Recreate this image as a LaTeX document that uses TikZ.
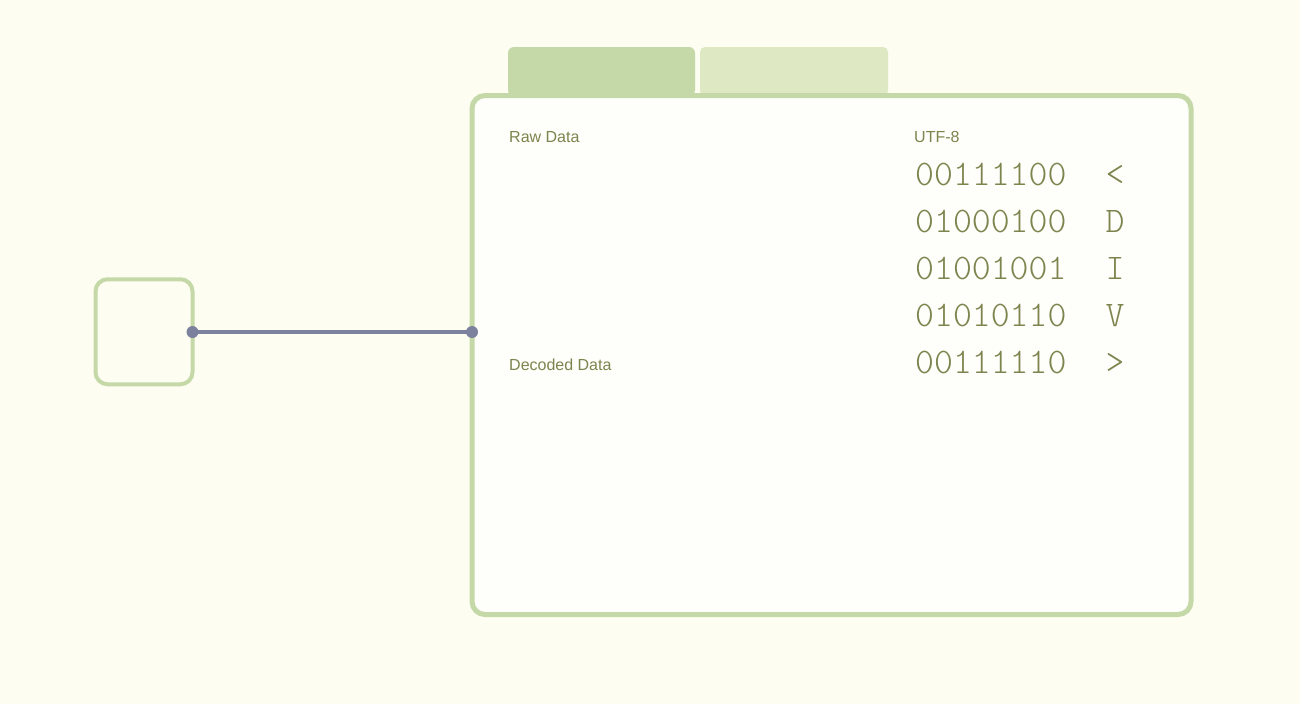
\documentclass[tikz,border=0pt]{standalone}
\usepackage{fontspec}
\setmainfont{Liberation Sans}
\newfontfamily\monofont{Latin Modern Mono Light}
\definecolor{bgc}{RGB}{253,253,242}
\definecolor{framec}{RGB}{197,217,168}
\definecolor{tabtwo}{RGB}{222,233,196}
\definecolor{txtc}{RGB}{126,132,78}
\definecolor{linkc}{RGB}{124,130,158}
\tikzset{
  frame/.style={draw=framec, line width=5pt, rounded corners=13pt, fill=white!60!bgc, outer sep=0pt},
  smallbox/.style={draw=framec, line width=4pt, rounded corners=12pt, outer sep=0pt},
  lbl/.style={anchor=base west, inner sep=0pt, text=txtc, font=\fontsize{16}{18}\selectfont},
  bits/.style={anchor=base west, inner sep=0pt, text=txtc, font=\monofont\fontsize{36}{38}\selectfont},
  glyph/.style={anchor=base, inner sep=0pt, text=txtc, font=\monofont\fontsize{36}{38}\selectfont},
  link/.style={draw=linkc, line width=4pt},
  dot/.style={circle, fill=linkc, inner sep=0pt, minimum size=12pt}
}
\begin{document}
\begin{tikzpicture}[x=1pt,y=-1pt]
\fill[bgc] (0,0) rectangle (1300,704);
\useasboundingbox (0,0) rectangle (1300,704);
% tabs
\fill[framec, rounded corners=6pt] (508,96) -- (508,47) -- (695,47) -- (695,96) -- cycle;
\fill[tabtwo, rounded corners=5pt] (700,96) -- (700,47) -- (888,47) -- (888,96) -- cycle;
% main frame
\node[frame, minimum width=719pt, minimum height=519pt, inner sep=0pt] (panel) at (831.5,355) {};
% small box
\node[smallbox, minimum width=97pt, minimum height=105pt, inner sep=0pt] (src) at (144,331.75) {};
% connector
\coordinate (a) at (src.east |- 0,332);
\coordinate (b) at (panel.west |- 0,332);
\draw[link] (a) -- (b);
\node[dot] (da) at (a) {};
\node[dot] (db) at (b) {};
% labels
\node[lbl] (raw) at (509,142) {Raw Data};
\node[lbl] (dec) at (509,370) {Decoded Data};
\node[lbl] (utf) at (914,142) {UTF-8};
% rows
\node[bits] (r1) at (915,185) {00111100};
\node[bits] (r2) at (915,232) {01000100};
\node[bits] (r3) at (915,279) {01001001};
\node[bits] (r4) at (915,326) {01010110};
\node[bits] (r5) at (915,373) {00111110};
\node[glyph] (c1) at (1115,185) {<};
\node[glyph] (c2) at (1115,232) {D};
\node[glyph] (c3) at (1115,279) {I};
\node[glyph] (c4) at (1115,326) {V};
\node[glyph] (c5) at (1115,373) {>};
\end{tikzpicture}
\end{document}
